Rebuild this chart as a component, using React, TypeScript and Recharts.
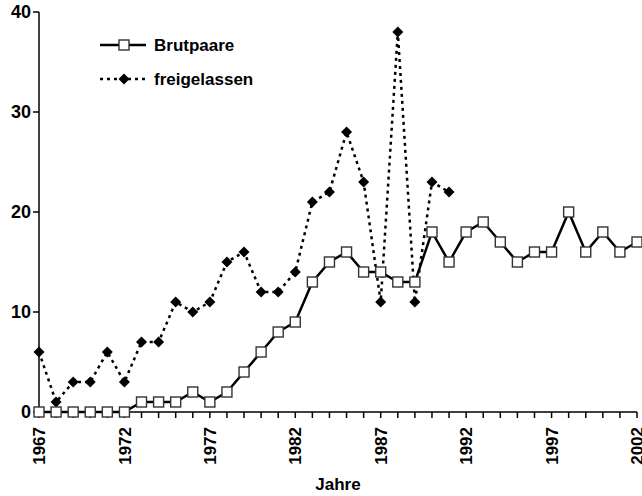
import { LineChart, Line, XAxis, YAxis } from "recharts";

const years = [
  1967, 1968, 1969, 1970, 1971, 1972, 1973, 1974, 1975, 1976, 1977, 1978,
  1979, 1980, 1981, 1982, 1983, 1984, 1985, 1986, 1987, 1988, 1989, 1990,
  1991, 1992, 1993, 1994, 1995, 1996, 1997, 1998, 1999, 2000, 2001, 2002,
];
const brutpaare = [
  0, 0, 0, 0, 0, 0, 1, 1, 1, 2, 1, 2, 4, 6, 8, 9, 13, 15, 16, 14, 14, 13, 13,
  18, 15, 18, 19, 17, 15, 16, 16, 20, 16, 18, 16, 17,
];
const freigelassen: (number | null)[] = [
  6, 1, 3, 3, 6, 3, 7, 7, 11, 10, 11, 15, 16, 12, 12, 14, 21, 22, 28, 23, 11,
  38, 11, 23, 22, null, null, null, null, null, null, null, null, null, null, null,
];
const labelYears = [1967, 1972, 1977, 1982, 1987, 1992, 1997, 2002];
const yTicks = [0, 10, 20, 30, 40];

const data = years.map((y, i) => ({
  year: y,
  brutpaare: brutpaare[i],
  freigelassen: freigelassen[i],
}));

const FONT = "'Liberation Sans', Arial, sans-serif";

function SquareDot(props: any) {
  const { cx, cy, index } = props;
  if (cx == null || cy == null) return <g key={index} />;
  return (
    <rect key={index} x={cx - 5} y={cy - 5} width={10} height={10} fill="#fff" stroke="#333" strokeWidth={1.4} />
  );
}

function DiamondDot(props: any) {
  const { cx, cy, index, value } = props;
  if (cx == null || cy == null || value == null) return <g key={index} />;
  return <polygon key={index} points={`${cx},${cy - 5.5} ${cx + 5.5},${cy} ${cx},${cy + 5.5} ${cx - 5.5},${cy}`} fill="#000" />;
}

function YearTick(props: any) {
  const { x, y, payload } = props;
  if (!labelYears.includes(payload.value)) return <g />;
  return (
    <text
      x={0}
      y={0}
      dy="0.36em"
      transform={`translate(${x},${y + 7}) rotate(-90)`}
      textAnchor="end"
      fontFamily={FONT}
      fontWeight="bold"
      fontSize={17}
      fill="#000"
    >
      {payload.value}
    </text>
  );
}

function LegendBox() {
  return (
    <svg width={200} height={60} style={{ position: "absolute", left: 100, top: 35, overflow: "visible" }}>
      <line x1={0} y1={10} x2={46} y2={10} stroke="#000" strokeWidth={2.5} />
      <rect x={19} y={5} width={10} height={10} fill="#fff" stroke="#333" strokeWidth={1.4} />
      <text x={54} y={16} fontFamily={FONT} fontWeight="bold" fontSize={17} fill="#000">
        Brutpaare
      </text>
      <line x1={0} y1={44} x2={46} y2={44} stroke="#000" strokeWidth={2.5} strokeDasharray="3 4" />
      <polygon points="24,38.5 29.5,44 24,49.5 18.5,44" fill="#000" />
      <text x={54} y={50} fontFamily={FONT} fontWeight="bold" fontSize={17} fill="#000">
        freigelassen
      </text>
    </svg>
  );
}

export default function App() {
  return (
    <div style={{ position: "absolute", left: 0, top: 0, width: 642, height: 496, background: "#fff" }}>
      <LineChart width={642} height={496} data={data} margin={{ top: 12, right: 5, left: 0, bottom: 0 }}>
        <XAxis
          dataKey="year"
          type="number"
          domain={[1967, 2002]}
          ticks={years}
          interval={0}
          tick={<YearTick />}
          tickSize={6}
          height={84}
          stroke="#000"
          strokeWidth={1.5}
          label={{ value: "Jahre", position: "insideBottom", offset: 6, fontFamily: FONT, fontWeight: "bold", fontSize: 17, fill: "#000" }}
        />
        <YAxis
          domain={[0, 40]}
          ticks={yTicks}
          width={39}
          tickSize={6}
          stroke="#000"
          strokeWidth={1.5}
          tick={{ fontFamily: FONT, fontWeight: "bold", fontSize: 18, fill: "#000" }}
        />
        <Line
          dataKey="freigelassen"
          stroke="#000"
          strokeWidth={2.5}
          strokeDasharray="3 4"
          dot={<DiamondDot />}
          isAnimationActive={false}
          connectNulls={false}
        />
        <Line
          dataKey="brutpaare"
          stroke="#000"
          strokeWidth={2.5}
          dot={<SquareDot />}
          isAnimationActive={false}
        />
      </LineChart>
      <LegendBox />
    </div>
  );
}
